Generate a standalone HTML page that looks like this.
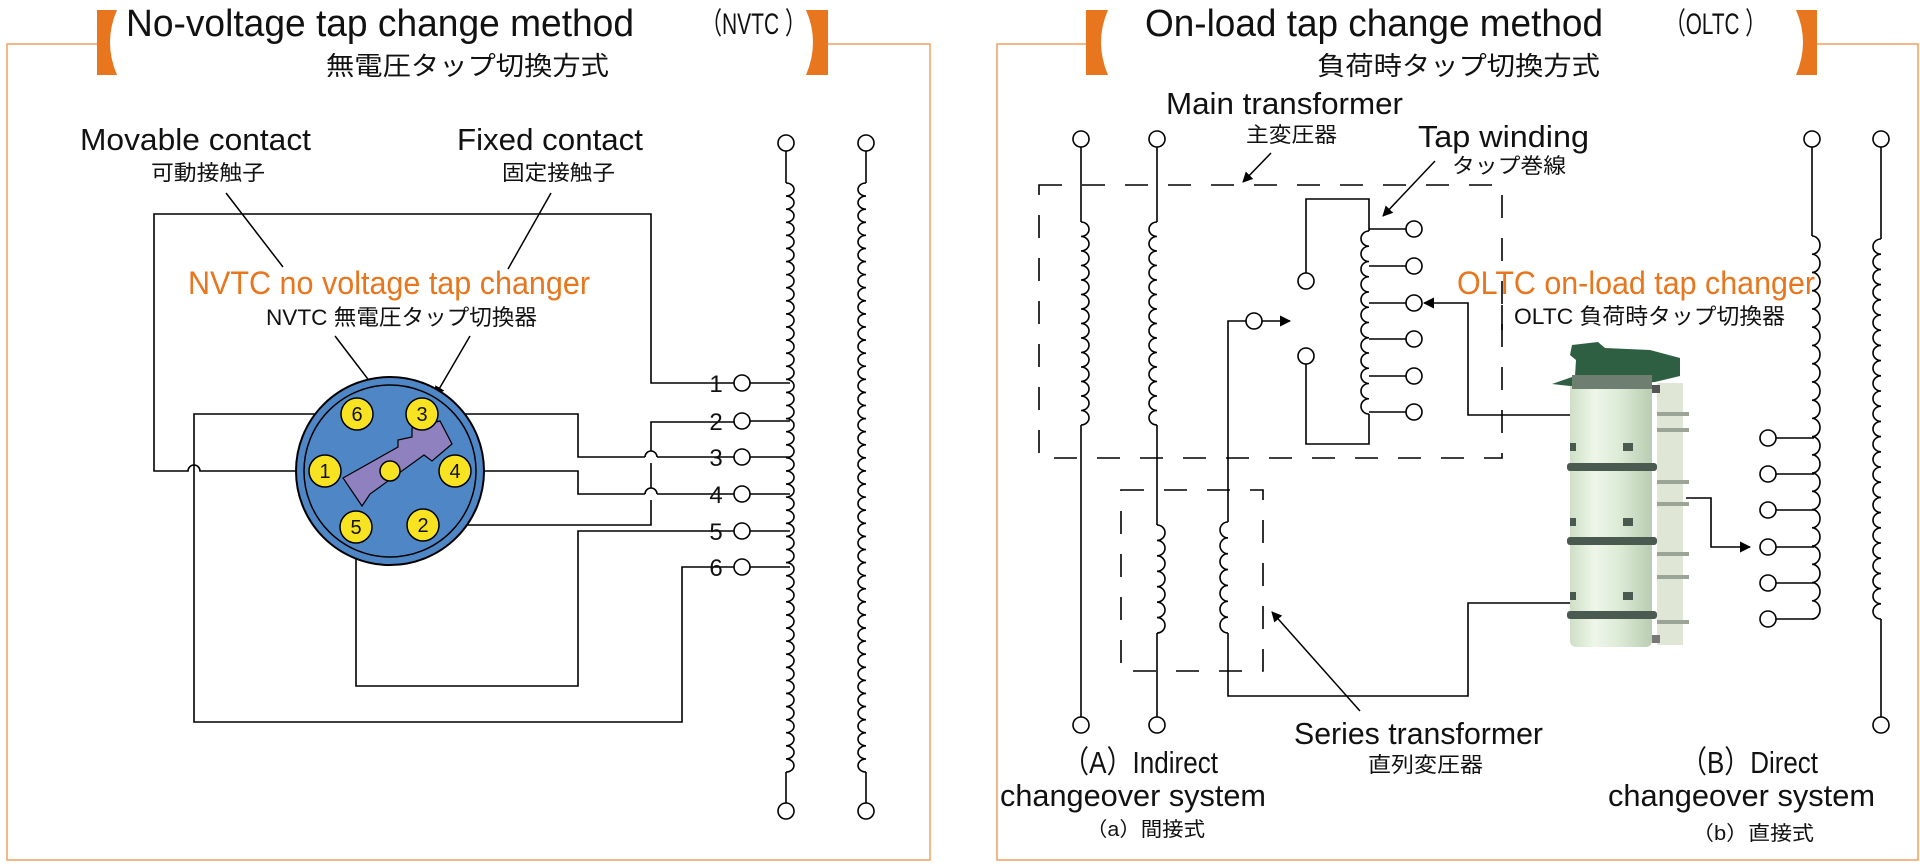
<!DOCTYPE html>
<html><head><meta charset="utf-8"><style>
html,body{margin:0;padding:0;background:#fff;}
svg{display:block;}
text{font-family:"Liberation Sans","Noto Sans CJK JP",sans-serif;fill:#111;}
.o{fill:#e8761e;}
</style></head><body>
<svg id="s" width="1920" height="866" viewBox="0 0 1920 866" xmlns="http://www.w3.org/2000/svg">
<defs>
<marker id="ah" viewBox="0 0 10 10" refX="9" refY="5" markerWidth="7" markerHeight="7" orient="auto"><path d="M0,0 L10,5 L0,10 z" fill="#000"/></marker>
<linearGradient id="cyl" x1="0" x2="1"><stop offset="0" stop-color="#cfe0c6"/><stop offset="0.3" stop-color="#eef6ea"/><stop offset="0.6" stop-color="#dcebd6"/><stop offset="1" stop-color="#b9cdb2"/></linearGradient>
</defs>
<g fill="none" stroke="#f0a060" stroke-width="1.5">
<polyline points="97,44 7,44 7,860 930,860 930,44 828,44"/>
<polyline points="1086,44 997,44 997,860 1918,860 1918,44 1817,44"/>
</g>
<g fill="#e8761e">
<path d="M97,10 H117 Q103,42 117,75 H97 Z"/>
<path d="M828,10 H806 Q820,42 806,75 H828 Z"/>
<path d="M1086,10 H1108 Q1094,42 1108,75 H1086 Z"/>
<path d="M1817,10 H1796 Q1810,42 1796,75 H1817 Z"/>
</g>
<text x="126" y="36" font-size="38" textLength="508" lengthAdjust="spacingAndGlyphs">No-voltage tap change method</text>
<text x="701" y="34" font-size="30" textLength="105" lengthAdjust="spacingAndGlyphs">（NVTC ）</text>
<text x="326" y="75" font-size="26" textLength="283" lengthAdjust="spacingAndGlyphs">無電圧タップ切換方式</text>
<text x="1145" y="36" font-size="38" textLength="458" lengthAdjust="spacingAndGlyphs">On-load tap change method</text>
<text x="1665" y="34" font-size="30" textLength="101" lengthAdjust="spacingAndGlyphs">（OLTC ）</text>
<text x="1317" y="75" font-size="26" textLength="283" lengthAdjust="spacingAndGlyphs">負荷時タップ切換方式</text>

<text x="80" y="150" font-size="31" textLength="231" lengthAdjust="spacingAndGlyphs">Movable contact</text>
<text x="151" y="180" font-size="21" textLength="114" lengthAdjust="spacingAndGlyphs">可動接触子</text>
<text x="457" y="150" font-size="31" textLength="186" lengthAdjust="spacingAndGlyphs">Fixed contact</text>
<text x="502" y="180" font-size="21" textLength="113" lengthAdjust="spacingAndGlyphs">固定接触子</text>
<text class="o" x="188" y="294" font-size="32" textLength="402" lengthAdjust="spacingAndGlyphs">NVTC no voltage tap changer</text>
<text x="266" y="325" font-size="22" textLength="271" lengthAdjust="spacingAndGlyphs">NVTC 無電圧タップ切換器</text>
<g stroke="#000" stroke-width="1.5" fill="none">
<line x1="226" y1="193" x2="283" y2="267"/>
<line x1="551" y1="193" x2="508" y2="269"/>
<line x1="335" y1="336" x2="403" y2="425" marker-end="url(#ah)"/>
<line x1="470" y1="336" x2="435" y2="396" marker-end="url(#ah)"/>
</g>
<g stroke="#000" stroke-width="1.6" fill="none">
<path d="M325,471 H200 A6,6 0 0 0 188,471 H154 V214 H651 V383 H734"/>
<path d="M357,414 H194 V722 H682 V567 H734"/>
<path d="M422,414 H578 V457 H645 M657,457 H734"/>
<path d="M455,471 H578 V494 H645 M657,494 H734"/>
<path d="M645,457 A6,6 0 0 1 657,457"/>
<path d="M645,494 A6,6 0 0 1 657,494"/>
<path d="M423,525 H651 V500 M651,488 V463 M651,451 V422 H734"/>
<path d="M356,527 V686 H578 V531 H734"/>
</g>
<circle cx="390" cy="471" r="94" fill="#4f86c6" stroke="#000" stroke-width="2"/>
<circle cx="390" cy="471" r="86" fill="none" stroke="#000" stroke-width="1.5"/>
<path d="M343,478 L398,447 L398,440 L412,437 L412,428 L440,421 L452,444 L432,461 L424,455 L370,494 L362,506 Z" fill="#8f80bf" stroke="#000" stroke-width="1.2"/>
<g fill="#f7e322" stroke="#000" stroke-width="1.5">
<circle cx="357" cy="414" r="16"/><circle cx="422" cy="414" r="16"/>
<circle cx="325" cy="471" r="16"/><circle cx="455" cy="471" r="16"/>
<circle cx="356" cy="527" r="16"/><circle cx="423" cy="525" r="16"/>
<circle cx="390" cy="471" r="10"/>
</g>
<g font-size="20" text-anchor="middle">
<text x="357" y="421">6</text><text x="422" y="421">3</text><text x="325" y="478">1</text>
<text x="455" y="478">4</text><text x="356" y="534">5</text><text x="423" y="532">2</text>
</g>
<g font-size="24" text-anchor="middle">
<text x="716" y="392">1</text><text x="716" y="430">2</text><text x="716" y="466">3</text>
<text x="716" y="503">4</text><text x="716" y="540">5</text><text x="716" y="576">6</text>
</g>
<g id="lc" stroke="#000" stroke-width="1.6" fill="none"></g>

<text x="1166" y="114" font-size="31" textLength="237" lengthAdjust="spacingAndGlyphs">Main transformer</text>
<text x="1246" y="142" font-size="21" textLength="91" lengthAdjust="spacingAndGlyphs">主変圧器</text>
<text x="1418" y="147" font-size="31" textLength="171" lengthAdjust="spacingAndGlyphs">Tap winding</text>
<text x="1452" y="173" font-size="21" textLength="114" lengthAdjust="spacingAndGlyphs">タップ巻線</text>
<g stroke="#000" stroke-width="1.6" fill="none" stroke-dasharray="23,20">
<rect x="1039" y="185" width="463" height="273"/>
<rect x="1121" y="490" width="142" height="181"/>
</g>
<rect x="1505" y="272" width="310" height="58" fill="#fff"/>
<line x1="1502" y1="305" x2="1502" y2="330" stroke="#000" stroke-width="1.6"/>
<text class="o" x="1457" y="294" font-size="32" textLength="358" lengthAdjust="spacingAndGlyphs">OLTC on-load tap changer</text>
<text x="1514" y="324" font-size="22" textLength="271" lengthAdjust="spacingAndGlyphs">OLTC 負荷時タップ切換器</text>
<g stroke="#000" stroke-width="1.5" fill="none">
<line x1="1271" y1="153" x2="1243" y2="182" marker-end="url(#ah)"/>
<line x1="1435" y1="161" x2="1383" y2="216" marker-end="url(#ah)"/>
<line x1="1360" y1="711" x2="1272" y2="612" marker-end="url(#ah)"/>
</g>
<g stroke="#000" stroke-width="1.6" fill="none">
<path d="M1228,633 V696 H1468 V603 H1575"/>
<path d="M1228,522 V321 H1246"/>
<path d="M1262,321 H1290" marker-end="url(#ah)"/>
<path d="M1575,415 H1468 V303 H1424" marker-end="url(#ah)"/>
<path d="M1686,498 H1711 V547 H1750" marker-end="url(#ah)"/>
<path d="M1306,273 V199 H1369 V231"/>
<path d="M1306,364 V444 H1369 V414"/>
</g>
<g id="rc" stroke="#000" stroke-width="1.6" fill="none"></g>
<g>
<rect x="1570" y="375" width="82" height="272" rx="6" fill="url(#cyl)"/>
<rect x="1657" y="383" width="26" height="262" fill="#dfe6d6"/>
<rect x="1652" y="385" width="8" height="8" fill="#555"/>
<rect x="1652" y="635" width="8" height="8" fill="#777"/>
<path d="M1552,384 L1575,376 L1576,360 L1570,355 L1572,345 L1598,342 L1605,348 L1650,350 L1680,358 L1680,376 L1655,382 L1570,386 Z" fill="#2f5f43"/>
<rect x="1572" y="375" width="80" height="14" fill="#6e7f72"/>
<g fill="#4b5a50">
<rect x="1567" y="463" width="90" height="8" rx="3"/><rect x="1567" y="537" width="90" height="8" rx="3"/><rect x="1567" y="611" width="90" height="8" rx="3"/>
<rect x="1623" y="443" width="10" height="8"/><rect x="1623" y="518" width="10" height="8"/><rect x="1623" y="592" width="10" height="8"/>
<rect x="1570" y="443" width="6" height="8"/><rect x="1570" y="518" width="6" height="8"/><rect x="1570" y="592" width="6" height="8"/>
</g>
<g fill="#9aa597">
<rect x="1657" y="412" width="32" height="4"/><rect x="1657" y="428" width="32" height="4"/><rect x="1657" y="480" width="32" height="4"/><rect x="1657" y="502" width="32" height="4"/><rect x="1657" y="552" width="32" height="4"/><rect x="1657" y="575" width="32" height="4"/><rect x="1657" y="620" width="32" height="4"/>
</g>
</g>
<text x="1294" y="744" font-size="31" textLength="249" lengthAdjust="spacingAndGlyphs">Series transformer</text>
<text x="1368" y="772" font-size="21" textLength="115" lengthAdjust="spacingAndGlyphs">直列変圧器</text>
<text x="1063" y="773" font-size="31" textLength="155" lengthAdjust="spacingAndGlyphs">（A）Indirect</text>
<text x="1000" y="806" font-size="31" textLength="266" lengthAdjust="spacingAndGlyphs">changeover system</text>
<text x="1086" y="836" font-size="20" textLength="119" lengthAdjust="spacingAndGlyphs">（a）間接式</text>
<text x="1681" y="773" font-size="31" textLength="137" lengthAdjust="spacingAndGlyphs">（B）Direct</text>
<text x="1608" y="806" font-size="31" textLength="267" lengthAdjust="spacingAndGlyphs">changeover system</text>
<text x="1692" y="840" font-size="20" textLength="122" lengthAdjust="spacingAndGlyphs">（b）直接式</text>
</svg>
<script>
function coil(x,y1,y2,dir,pitch){var n=Math.max(1,Math.round((y2-y1)/pitch));var h=(y2-y1)/n;var d="M"+x+","+y1;for(var i=0;i<n;i++){d+=" a8,"+(h/2)+" 0 0 "+(dir>0?1:0)+" 0,"+h;}return d;}
function P(g,d){var p=document.createElementNS("http://www.w3.org/2000/svg","path");p.setAttribute("d",d);document.getElementById(g).appendChild(p);}
function C(g,x,y){var c=document.createElementNS("http://www.w3.org/2000/svg","circle");c.setAttribute("cx",x);c.setAttribute("cy",y);c.setAttribute("r",8);c.setAttribute("fill","#fff");document.getElementById(g).appendChild(c);}
P("lc","M786,151 V183");P("lc",coil(786,183,772,1,13));P("lc","M786,772 V803");C("lc",786,143);C("lc",786,811);
P("lc","M866,151 V183");P("lc",coil(866,183,772,-1,13));P("lc","M866,772 V803");C("lc",866,143);C("lc",866,811);
[383,421,457,494,531,567].forEach(function(y){P("lc","M750,"+y+" H790");C("lc",742,y);});
P("rc","M1081,147 V222");P("rc",coil(1081,222,425,1,15));P("rc","M1081,425 V717");C("rc",1081,139);C("rc",1081,725);
P("rc","M1157,147 V222");P("rc",coil(1157,222,425,-1,15));P("rc","M1157,425 V525");P("rc",coil(1157,525,633,1,15));P("rc","M1157,633 V717");C("rc",1157,139);C("rc",1157,725);
P("rc",coil(1228,522,633,-1,15));
C("rc",1254,321);C("rc",1306,281);C("rc",1306,356);
P("rc",coil(1369,231,414,-1,15));
[229,266,303,339,376,412].forEach(function(y){P("rc","M1369,"+y+" H1406");C("rc",1414,y);});
P("rc","M1812,147 V236");P("rc",coil(1812,236,619,1,18));C("rc",1812,139);
[438,474,510,547,583,619].forEach(function(y){P("rc","M1776,"+y+" H1814");C("rc",1768,y);});
P("rc","M1881,147 V239");P("rc",coil(1881,239,619,-1,15));P("rc","M1881,619 V717");C("rc",1881,139);C("rc",1881,725);
</script>
</body></html>
